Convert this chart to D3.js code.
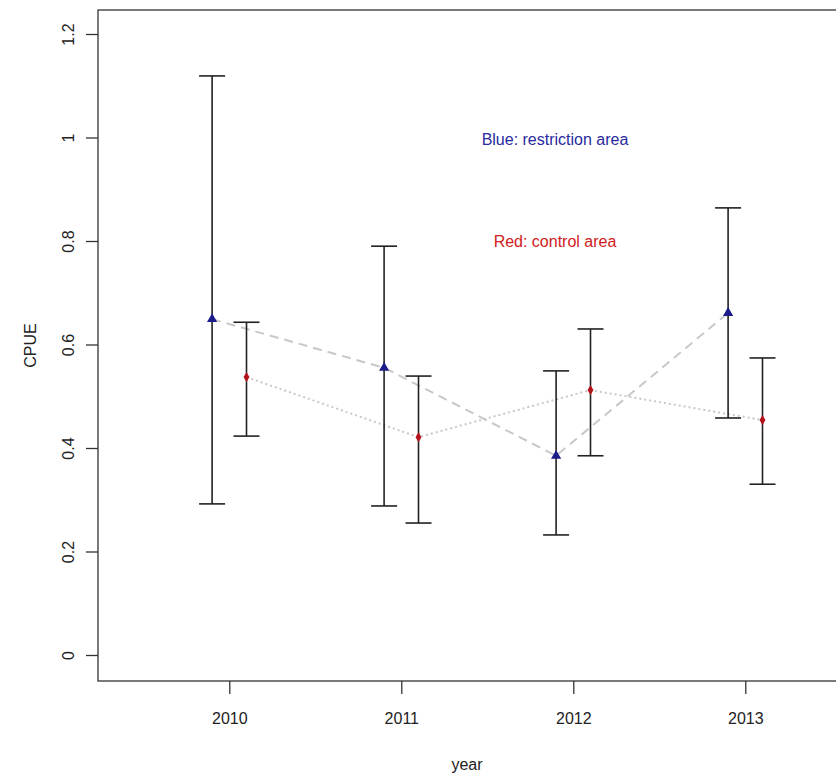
<!DOCTYPE html>
<html>
<head>
    <title>CPUE by year</title>
    <script src="https://d3js.org/d3.v7.min.js"></script>
    <style>
        body { margin: 0; background: white; }
        text { font-family: "Liberation Sans", Arial, sans-serif; }
    </style>
</head>
<body>
    <div id="chart"></div>
    <script>
        // data
        const years = [2010, 2011, 2012, 2013];
        const blueMean = [0.649, 0.555, 0.385, 0.661];
        const blueLow  = [0.292, 0.288, 0.232, 0.458];
        const blueHigh = [1.119, 0.790, 0.549, 0.864];
        const redMean  = [0.537, 0.421, 0.512, 0.454];
        const redLow   = [0.423, 0.255, 0.385, 0.330];
        const redHigh  = [0.643, 0.539, 0.630, 0.574];
        const yTicks = [0, 0.2, 0.4, 0.6, 0.8, 1, 1.2];

        const width = 836, height = 778;
        const box = { left: 98, top: 10, right: 837, bottom: 681 };

        const svg = d3.select("#chart")
            .append("svg")
            .attr("width", width)
            .attr("height", height);

        const x = d3.scaleLinear().domain([2010, 2013]).range([229.3, 745.3]);
        const y = d3.scaleLinear().domain([0, 1.2]).range([655, 34]);
        const shift = 0.1; // blue left of the year, red right of it

        const blue = years.map((yr, i) => ({ x: yr - shift, m: blueMean[i], lo: blueLow[i], hi: blueHigh[i] }));
        const red = years.map((yr, i) => ({ x: yr + shift, m: redMean[i], lo: redLow[i], hi: redHigh[i] }));

        // frame
        svg.append("rect")
            .attr("x", box.left)
            .attr("y", box.top)
            .attr("width", box.right - box.left)
            .attr("height", box.bottom - box.top)
            .attr("fill", "none")
            .attr("stroke", "#333")
            .attr("stroke-width", 1.3);

        // axes
        const yAxis = svg.append("g")
            .attr("transform", `translate(${box.left},0)`)
            .call(d3.axisLeft(y).tickValues(yTicks).tickSize(12).tickFormat(d => String(d)));
        yAxis.select(".domain").remove();
        yAxis.selectAll("line").attr("stroke", "#333").attr("stroke-width", 1.3);
        // each tick group is already placed at its value, so only shift and turn the label
        yAxis.selectAll("text")
            .attr("x", 0).attr("y", 0).attr("dy", null)
            .attr("text-anchor", "middle")
            .attr("transform", "translate(-28,0) rotate(-90)")
            .attr("dominant-baseline", "middle")
            .style("font-size", "16px")
            .attr("fill", "#222");

        const xAxis = svg.append("g")
            .attr("transform", `translate(0,${box.bottom})`)
            .call(d3.axisBottom(x).tickValues(years).tickSize(13).tickFormat(d3.format("d")));
        xAxis.select(".domain").remove();
        xAxis.selectAll("line").attr("stroke", "#333").attr("stroke-width", 1.3);
        xAxis.selectAll("text")
            .attr("y", 37).attr("dy", "0.35em")
            .style("font-size", "16px")
            .attr("fill", "#222");

        // axis titles
        svg.append("text")
            .attr("transform", `translate(32,${(box.top + box.bottom) / 2}) rotate(-90)`)
            .attr("text-anchor", "middle")
            .attr("dominant-baseline", "middle")
            .style("font-size", "16px")
            .attr("fill", "#222")
            .text("CPUE");

        svg.append("text")
            .attr("x", (box.left + 836) / 2)
            .attr("y", 766)
            .attr("text-anchor", "middle")
            .attr("dominant-baseline", "middle")
            .style("font-size", "16px")
            .attr("fill", "#222")
            .text("year");

        // connecting lines
        const line = d3.line().x(d => x(d.x)).y(d => y(d.m));
        svg.append("path")
            .datum(blue)
            .attr("d", line)
            .attr("fill", "none")
            .attr("stroke", "#c8c8c8")
            .attr("stroke-width", 2)
            .attr("stroke-dasharray", "9,6");
        svg.append("path")
            .datum(red)
            .attr("d", line)
            .attr("fill", "none")
            .attr("stroke", "#c8c8c8")
            .attr("stroke-width", 2)
            .attr("stroke-dasharray", "2,3");

        // error bars
        const capHalf = 13;
        function errorBars(data) {
            const g = svg.append("g").attr("stroke", "#222").attr("stroke-width", 1.6);
            g.selectAll(".stem").data(data).join("line")
                .attr("x1", d => x(d.x)).attr("x2", d => x(d.x))
                .attr("y1", d => y(d.lo)).attr("y2", d => y(d.hi));
            g.selectAll(".capHi").data(data).join("line")
                .attr("x1", d => x(d.x) - capHalf).attr("x2", d => x(d.x) + capHalf)
                .attr("y1", d => y(d.hi)).attr("y2", d => y(d.hi));
            g.selectAll(".capLo").data(data).join("line")
                .attr("x1", d => x(d.x) - capHalf).attr("x2", d => x(d.x) + capHalf)
                .attr("y1", d => y(d.lo)).attr("y2", d => y(d.lo));
        }
        errorBars(blue);
        errorBars(red);

        // points
        svg.selectAll(".blue-pt").data(blue).join("path")
            .attr("d", d3.symbol(d3.symbolTriangle, 45))
            .attr("transform", d => `translate(${x(d.x)},${y(d.m)})`)
            .attr("fill", "#1b1b8a");
        svg.selectAll(".red-pt").data(red).join("path")
            .attr("d", d3.symbol(d3.symbolDiamond, 30))
            .attr("transform", d => `translate(${x(d.x)},${y(d.m)})`)
            .attr("fill", "#b5121b");

        // labels
        svg.append("text")
            .attr("x", 555).attr("y", 141)
            .attr("text-anchor", "middle")
            .attr("dominant-baseline", "middle")
            .style("font-size", "16px")
            .attr("fill", "#2a2aa0")
            .text("Blue: restriction area");
        svg.append("text")
            .attr("x", 555).attr("y", 243)
            .attr("text-anchor", "middle")
            .attr("dominant-baseline", "middle")
            .style("font-size", "16px")
            .attr("fill", "#d02020")
            .text("Red: control area");
    </script>
</body>
</html>
